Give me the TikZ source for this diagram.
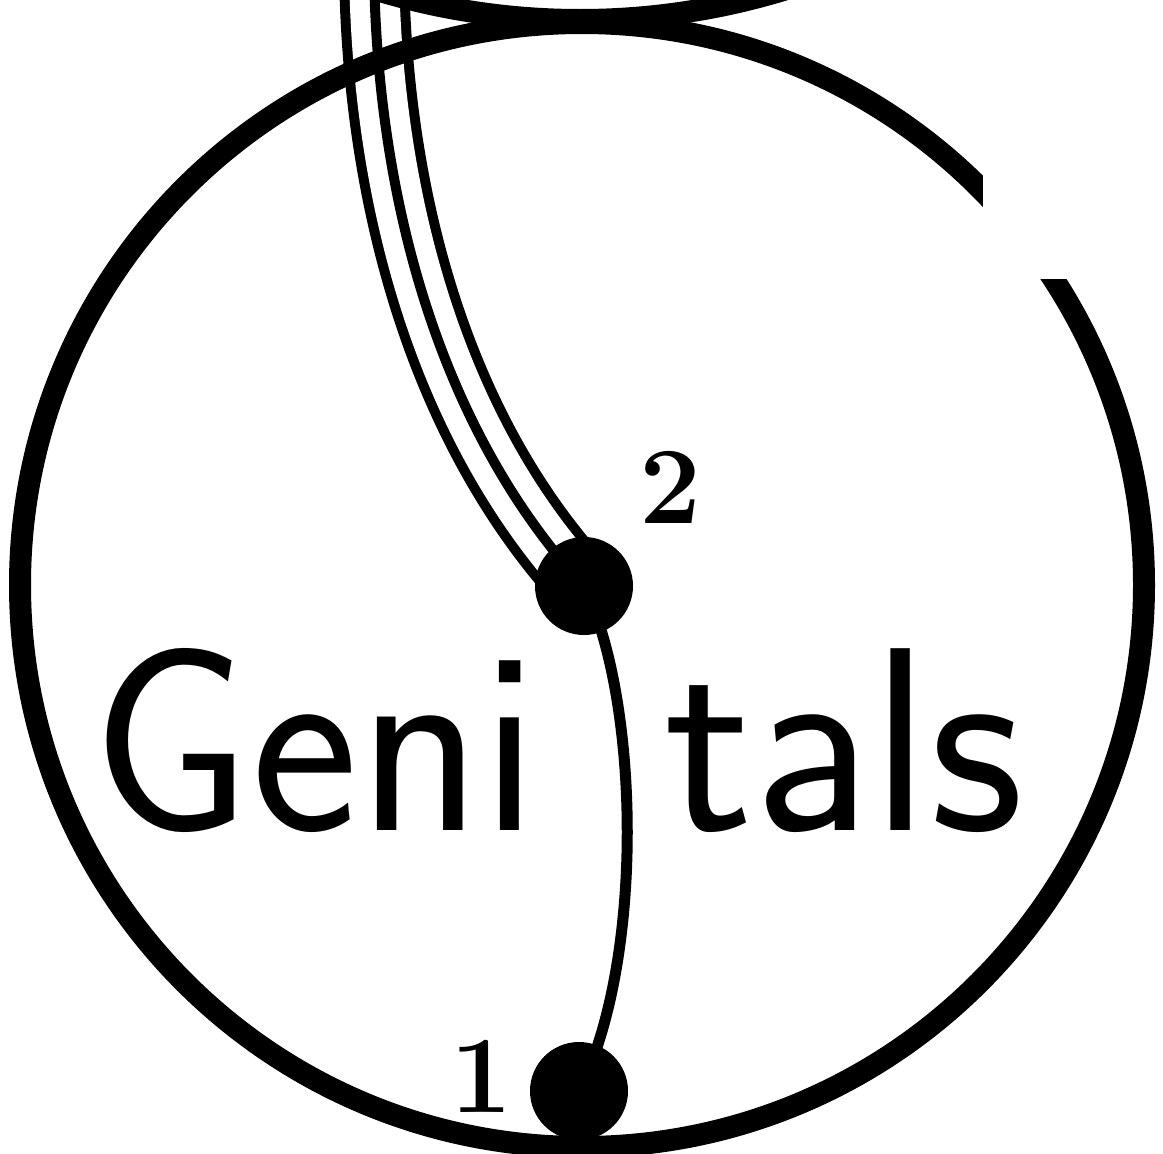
\documentclass[tikz,border=0pt]{standalone}
\usepackage{fontspec}
\usetikzlibrary{backgrounds}
\tikzset{
  ring/.style={draw=black,line width=22pt},
  blob/.style={circle,fill=black,minimum size=98pt,inner sep=0pt},
  cord/.style={draw=black,line width=11pt},
  tube/.style={draw=black,line width=70pt,
               postaction={draw=white,line width=50pt},
               postaction={draw=black,line width=10pt}},
  num/.style={font=\fontsize{110}{110}\selectfont\bfseries,inner sep=0pt},
  word/.style={font=\sffamily\fontsize{262}{262}\selectfont,inner sep=0pt,anchor=base west},
}
\begin{document}
\begin{tikzpicture}[x=1pt,y=-1pt]
  \useasboundingbox (0,0) rectangle (1163,1154);
  \node[blob] (n2) at (584,586) {};
  \node[blob] (n1) at (579,1091) {};
  \coordinate (top) at (374,-30);
  \node[num] (l2) at (670,487) {2};
  \node[num] (l1) at (481,1076) {1};
  \node[word] (geni) at (91,830) {\scalebox{0.975}[1]{Geni}};
  \node[word] (tals) at (664,830) {tals};
  \begin{scope}[on background layer]
    \clip (0,0) rectangle (1163,1154);
    \draw[tube] (top) .. controls (377,200) and (440,430) .. (n2.center);
    \draw[cord] (n2.center) .. controls +(56,114) and +(66,-131) .. (n1.center);
    \draw[ring] (582,585) circle[radius=562];
    \draw[ring] (580,-680) circle[radius=700];
    % opening in the rim
    \fill[white] (983,140) rectangle (1110,279);
  \end{scope}
\end{tikzpicture}
\end{document}
